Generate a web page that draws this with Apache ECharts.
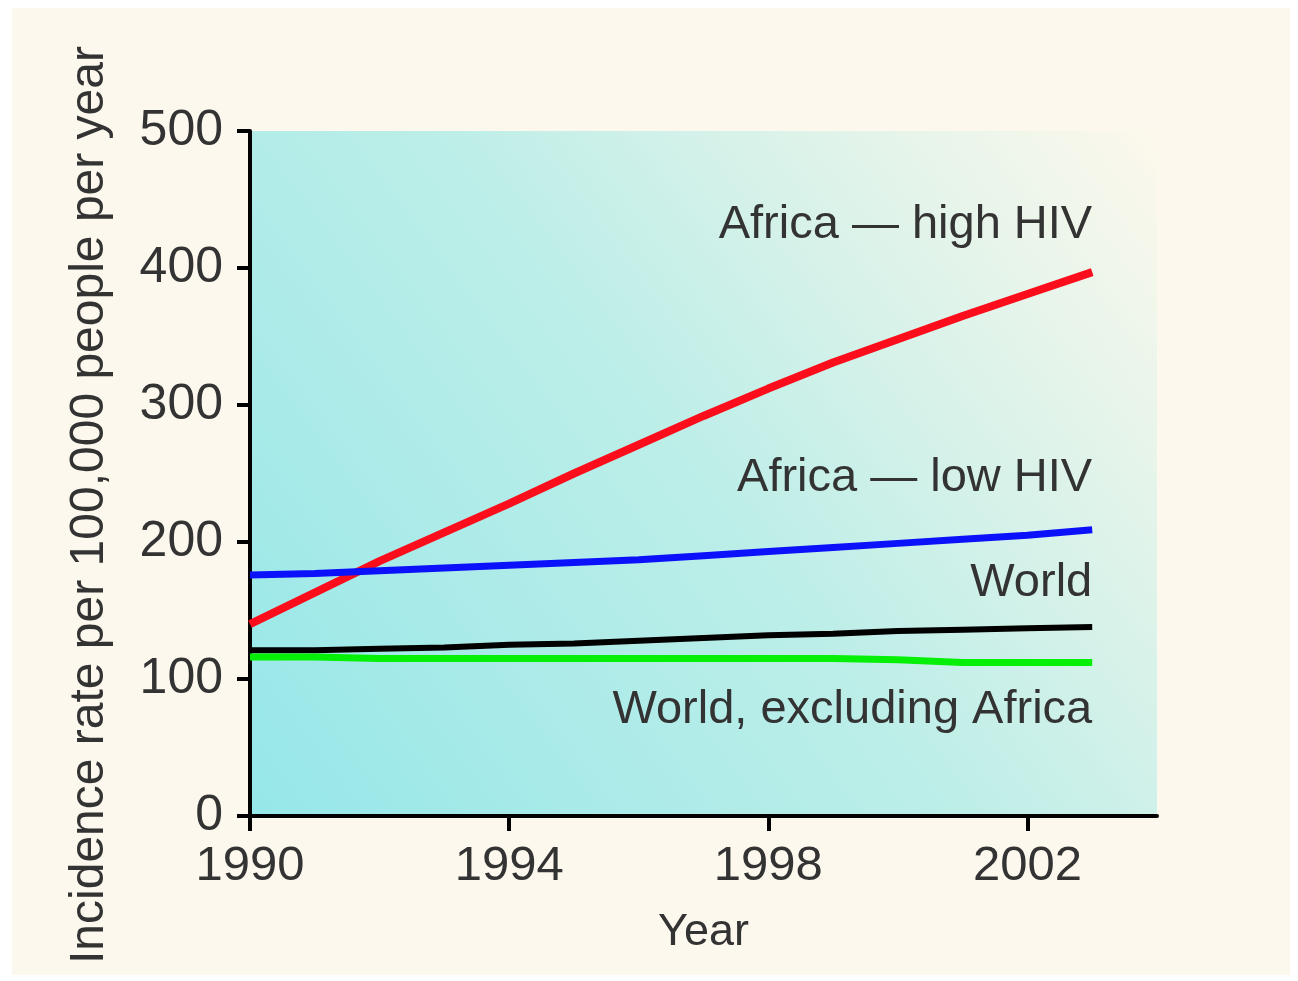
<!DOCTYPE html>
<html>
<head>
<meta charset="utf-8">
<script src="https://cdn.jsdelivr.net/npm/echarts@6/dist/echarts.min.js"></script>
<style>
  html, body { margin: 0; padding: 0; background: #ffffff; }
  #chart { width: 1298px; height: 981px; }
</style>
</head>
<body>
<div id="chart"></div>
<script>
(function(){

    // data
    var years = [1990, 1991, 1992, 1993, 1994, 1995, 1996, 1997, 1998, 1999, 2000, 2001, 2002, 2003],
        africaHigh = [140, 163, 186, 207, 228, 250, 271, 292, 312, 331, 348, 365, 381, 397],
        africaLow = [176, 177, 179, 181, 183, 185, 187, 190, 193, 196, 199, 202, 205, 209],
        world = [121, 121, 122, 123, 125, 126, 128, 130, 132, 133, 135, 136, 137, 138],
        worldExAfrica = [116, 116, 115, 115, 115, 115, 115, 115, 115, 115, 114, 112, 112, 112],
        xTicks = [1990, 1994, 1998, 2002],
        yTicks = [0, 100, 200, 300, 400, 500],
        seriesNames = ['Africa \u2014 high HIV', 'Africa \u2014 low HIV', 'World', 'World, excluding Africa'],
        labelYear = 2003,
        labelValues = [431, 247, 170, 77]

    var font = 'Liberation Sans, Arial, Helvetica, sans-serif',
        textColor = '#333333',
        colors = ['#fb0d1c', '#0b12fb', '#000000', '#06ef06'],
        widths = [8, 7, 6, 7],
        chart = echarts.init(document.getElementById('chart'))

    function pairs(values){
        var res = []
        for (var i = 0; i < years.length; i++) {
            res.push([years[i], values[i]])
        }
        return res
    }

    var allValues = [africaHigh, africaLow, world, worldExAfrica]

    var series = allValues.map(function(values, i){
        return {
            name : seriesNames[i],
            type : 'line',
            data : pairs(values),
            showSymbol : false,
            symbol : 'none',
            lineStyle : { color : colors[i], width : widths[i] },
            itemStyle : { color : colors[i] },
            z : 3 + i,
            markPoint : {
                symbol : 'circle',
                symbolSize : 0,
                silent : true,
                data : [{ coord : [labelYear, labelValues[i]], value : seriesNames[i] }],
                label : {
                    show : true,
                    position : 'left',
                    distance : 0,
                    formatter : seriesNames[i],
                    fontFamily : font,
                    fontSize : 47,
                    color : textColor
                }
            }
        }
    })

    var option = {
        backgroundColor : '#ffffff',
        animation : false,
        graphic : [
            {
                type : 'rect',
                z : -10,
                silent : true,
                shape : { x : 12, y : 8, width : 1278, height : 967 },
                style : { fill : '#fdf8ee' }
            },
            {
                type : 'text',
                z : 10,
                x : 90,
                y : 505,
                rotation : Math.PI / 2,
                style : {
                    text : 'Incidence rate per 100,000 people per year',
                    fontFamily : font,
                    fontSize : 48,
                    fill : textColor,
                    align : 'center',
                    verticalAlign : 'middle'
                }
            }
        ],
        grid : {
            left : 250,
            right : 141,
            top : 131,
            bottom : 165,
            show : true,
            borderWidth : 0,
            backgroundColor : new echarts.graphic.LinearGradient(0, 1, 1, 0, [
                { offset : 0, color : '#96e7e9' },
                { offset : 0.5, color : '#bdeee8' },
                { offset : 0.8, color : '#e4f4ea' },
                { offset : 1, color : '#fdf8ec' }
            ])
        },
        xAxis : {
            type : 'value',
            min : 1990,
            max : 2004,
            interval : 4,
            name : 'Year',
            nameLocation : 'middle',
            nameGap : 94,
            nameTextStyle : { fontFamily : font, fontSize : 45, color : textColor },
            axisLine : { lineStyle : { color : '#000', width : 4 } },
            axisTick : { show : true, length : 15, customValues : xTicks, lineStyle : { color : '#000', width : 4 } },
            axisLabel : {
                customValues : xTicks,
                margin : 26,
                fontFamily : font,
                fontSize : 49,
                color : textColor,
                formatter : function(v){ return String(v) }
            },
            splitLine : { show : false }
        },
        yAxis : {
            type : 'value',
            min : 0,
            max : 500,
            interval : 100,
            axisLine : { show : true, lineStyle : { color : '#000', width : 4 } },
            axisTick : { show : true, length : 13, customValues : yTicks, lineStyle : { color : '#000', width : 4 } },
            axisLabel : {
                customValues : yTicks,
                margin : 27,
                fontFamily : font,
                fontSize : 50,
                color : textColor
            },
            splitLine : { show : false }
        },
        series : series
    }

    chart.setOption(option)

})()
</script>
</body>
</html>
